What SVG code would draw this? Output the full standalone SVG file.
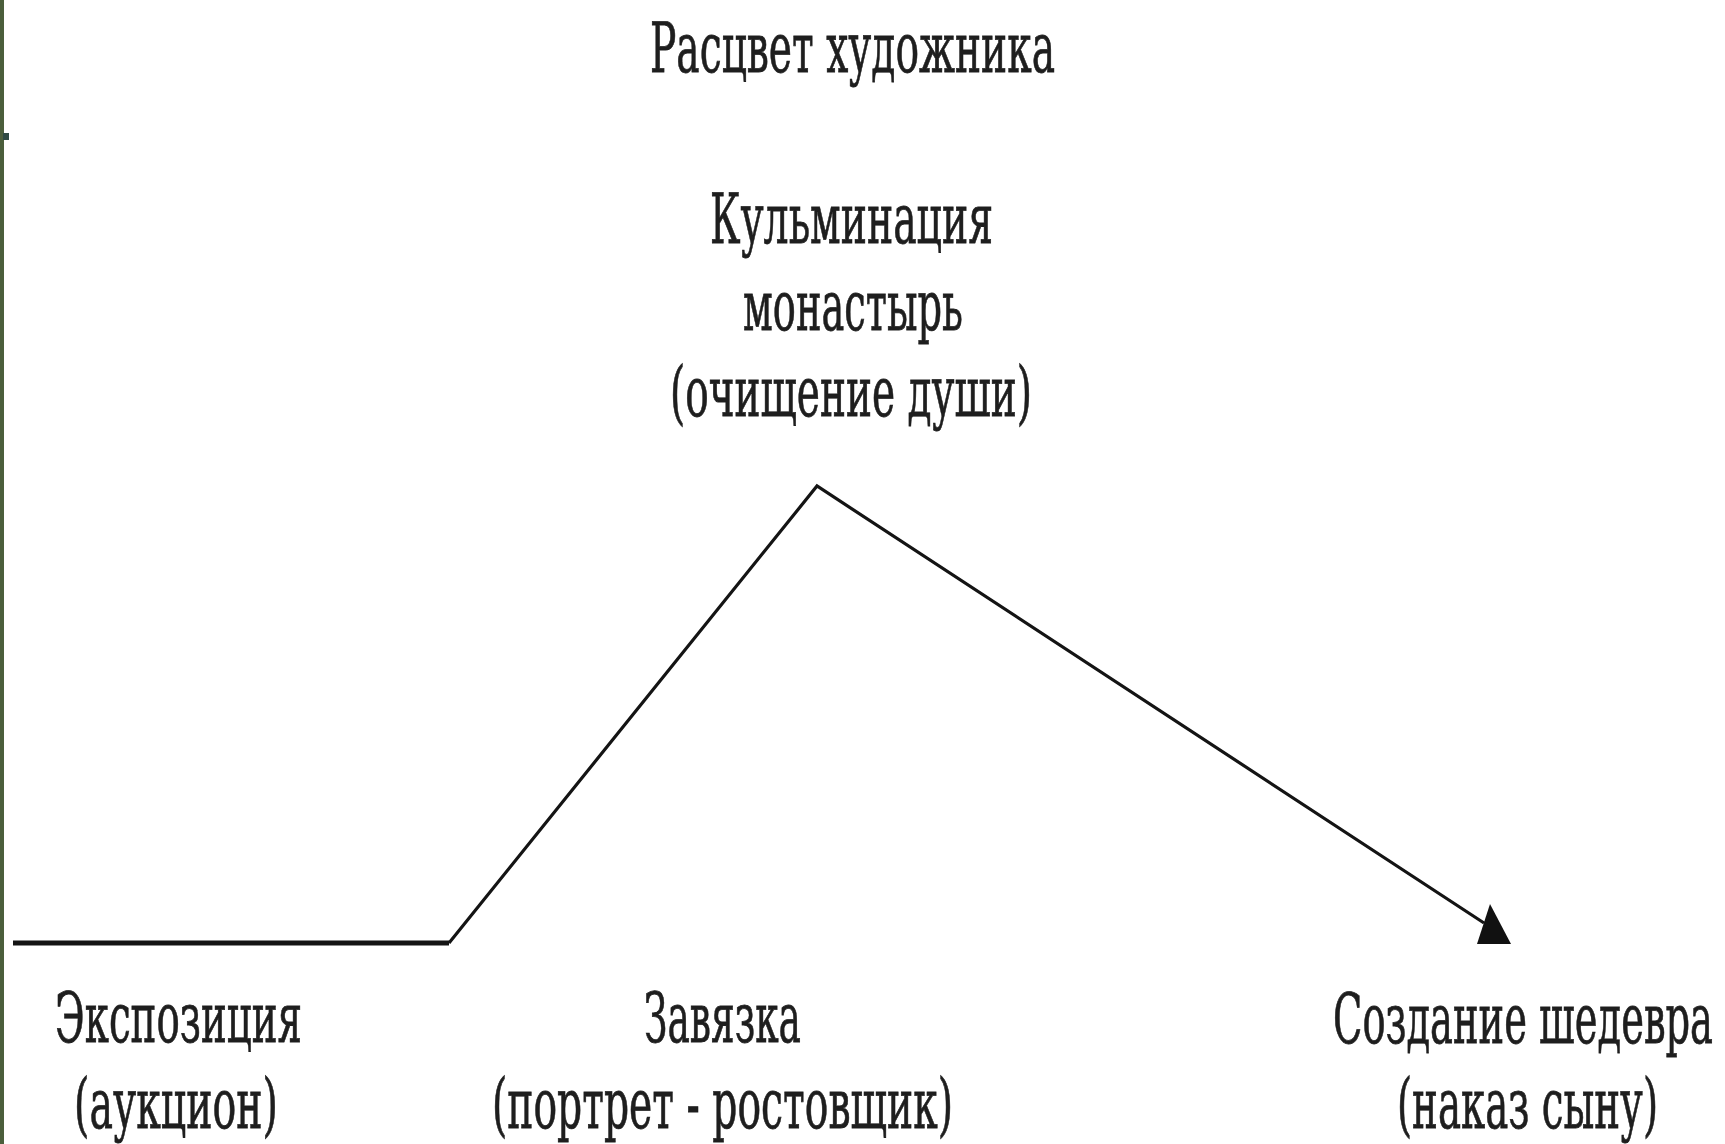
<svg xmlns="http://www.w3.org/2000/svg" width="1725" height="1144" viewBox="0 0 1725 1144">
<style>
.t{font-family:"DejaVu Serif","Liberation Serif",serif;font-size:70px;fill:#1e1e1e;stroke:#1e1e1e;stroke-width:0.8px}
.ln{fill:none;stroke:#141414;stroke-linecap:butt;stroke-linejoin:miter}
</style>
<rect x="0" y="0" width="1725" height="1144" fill="#ffffff"/>
<rect x="0" y="0" width="4" height="1144" fill="#4b5e3b"/>
<rect x="3" y="133" width="6" height="7" fill="#2f4a44"/>
<g id="connectors">
<path class="ln" d="M13 943 H449" stroke-width="5"/>
<path class="ln" d="M449 943 L817 486 L1484 923" stroke-width="3.2"/>
<polygon points="1477,944 1511,944 1490,904" fill="#111"/>
</g>
<g id="title">
<text class="t" x="650" y="72" textLength="405" lengthAdjust="spacingAndGlyphs">Расцвет художника</text>
</g>
<g id="culmination">
<text class="t" x="710" y="243" textLength="283" lengthAdjust="spacingAndGlyphs">Кульминация</text>
<text class="t" x="743" y="330" textLength="220" lengthAdjust="spacingAndGlyphs">монастырь</text>
<text class="t" x="670" y="416" textLength="362" lengthAdjust="spacingAndGlyphs">(очищение души)</text>
</g>
<g id="exposition">
<text class="t" x="55" y="1042" textLength="247" lengthAdjust="spacingAndGlyphs">Экспозиция</text>
<text class="t" x="74" y="1128" textLength="204" lengthAdjust="spacingAndGlyphs">(аукцион)</text>
</g>
<g id="plot">
<text class="t" x="644" y="1042" textLength="157" lengthAdjust="spacingAndGlyphs">Завязка</text>
<text class="t" x="492" y="1128" textLength="461" lengthAdjust="spacingAndGlyphs">(портрет - ростовщик)</text>
</g>
<g id="masterpiece">
<text class="t" x="1333" y="1043" textLength="380" lengthAdjust="spacingAndGlyphs">Создание шедевра</text>
<text class="t" x="1397" y="1128" textLength="261" lengthAdjust="spacingAndGlyphs">(наказ сыну)</text>
</g>
</svg>
